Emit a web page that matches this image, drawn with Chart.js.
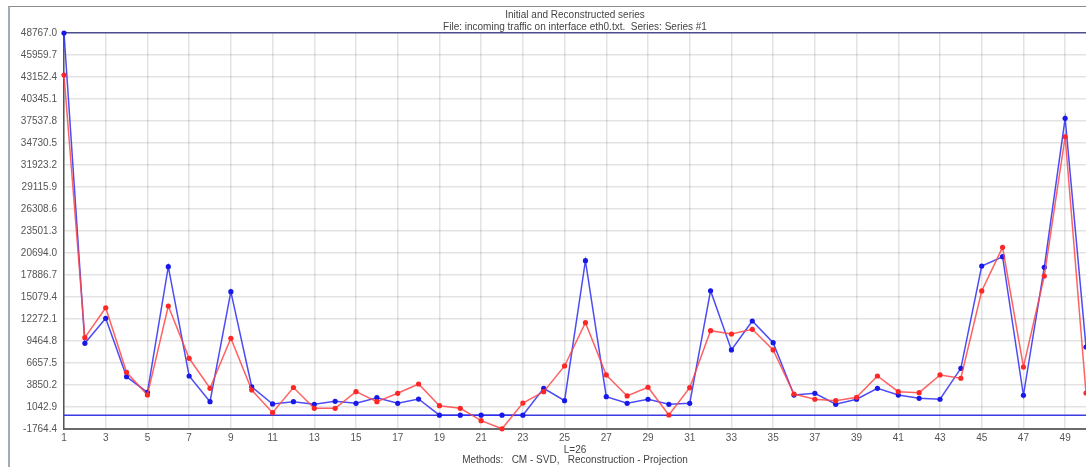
<!DOCTYPE html>
<html>
<head>
<meta charset="utf-8">
<script src="https://cdn.jsdelivr.net/npm/chart.js@4.4.1/dist/chart.umd.min.js"></script>
<style>
  html, body { margin: 0; padding: 0; background: #fff; }
  #wrap { position: relative; width: 1086px; height: 467px; overflow: hidden; }
  #marco { position: absolute; left: 8px; top: 6px; right: -4px; bottom: -4px;
           border-left: 2px solid #a3abb5; border-top: 1px solid #8c8c8c; }
  canvas { position: absolute; left: 0; top: 0; }
</style>
</head>
<body>
<div id="wrap">
  <div id="marco"></div>
  <canvas id="grafico" width="1086" height="467"></canvas>
</div>
<script>
/* Serie inicial y reconstruida */

const puntos = [1, 2, 3, 4, 5, 6, 7, 8, 9, 10, 11, 12, 13, 14, 15, 16, 17, 18, 19, 20,
  21, 22, 23, 24, 25, 26, 27, 28, 29, 30, 31, 32, 33, 34, 35, 36, 37, 38, 39, 40,
  41, 42, 43, 44, 45, 46, 47, 48, 49, 50];

// valores
const serieInicial = [48767, 9170, 12360, 4910, 2920, 18950, 5000, 1720, 15760, 3630,
  1430, 1720, 1390, 1770, 1515, 2230, 1515, 2060, 0, 0,
  0, 0, 0, 3430, 1850, 19710, 2360, 1515, 2030, 1390,
  1515, 15880, 8320, 12020, 9250, 2570, 2790, 1390, 2030, 3430,
  2570, 2150, 2030, 5980, 19030, 20220, 2540, 18870, 37880, 8700];

const serieReconstruida = [43400, 9890, 13710, 5470, 2575, 13930, 7260, 3430, 9810, 3210,
  320, 3530, 880, 880, 3000, 1720, 2790, 3980, 1210, 880,
  -700, -1740, 1550, 3000, 6280, 11800, 5130, 2450, 3560, 20,
  3510, 10780, 10360, 10960, 8320, 2700, 2030, 1850, 2280, 5000,
  3000, 2870, 5130, 4710, 15850, 21420, 6150, 17760, 35530, 2830];

const ticksY = [-1764.4, 1042.9, 3850.2, 6657.5, 9464.8, 12272.1, 15079.4, 17886.7,
  20694.0, 23501.3, 26308.6, 29115.9, 31923.2, 34730.5, 37537.8, 40345.1, 43152.4,
  45959.7, 48767.0];

const ticksX = [1, 3, 5, 7, 9, 11, 13, 15, 17, 19, 21, 23, 25, 27, 29, 31, 33, 35,
  37, 39, 41, 43, 45, 47, 49];

Chart.defaults.font.family = "'Liberation Sans', Arial, sans-serif";
Chart.defaults.color = '#555';

// linea horizontal en cero
const lineaCero = {
  id: 'lineaCero',
  beforeDatasetsDraw(chart) {
    const { ctx, chartArea, scales } = chart;
    const y = scales.y.getPixelForValue(0);
    ctx.save();
    ctx.strokeStyle = '#3b3be2';
    ctx.lineWidth = 1.5;
    ctx.beginPath();
    ctx.moveTo(chartArea.left, y);
    ctx.lineTo(chartArea.right, y);
    ctx.stroke();
    ctx.restore();
  }
};

const aPuntos = serie => serie.map((v, i) => ({ x: puntos[i], y: v }));

new Chart(document.getElementById('grafico'), {
  type: 'line',
  data: {
    datasets: [{
      label: 'Initial',
      data: aPuntos(serieInicial),
      borderColor: 'rgba(45,45,245,0.85)',
      borderWidth: 1.5,
      pointRadius: 2.6,
      pointBackgroundColor: '#1818e8',
      pointBorderWidth: 0,
      tension: 0,
      clip: false,
      order: 2
    }, {
      label: 'Reconstructed',
      data: aPuntos(serieReconstruida),
      borderColor: 'rgba(255,70,70,0.85)',
      borderWidth: 1.5,
      pointRadius: 2.6,
      pointBackgroundColor: '#ff2626',
      pointBorderWidth: 0,
      tension: 0,
      clip: false,
      order: 1
    }]
  },
  options: {
    responsive: false,
    animation: false,
    layout: { padding: 0, autoPadding: false },
    plugins: {
      legend: { display: false },
      tooltip: { enabled: false },
      title: {
        display: true,
        fullSize: false,
        text: 'Initial and Reconstructed series',
        color: '#444',
        font: { size: 10, weight: 'normal' },
        padding: { top: 9, bottom: 0 }
      },
      subtitle: {
        display: true,
        fullSize: false,
        text: 'File: incoming traffic on interface eth0.txt.  Series: Series #1',
        color: '#444',
        font: { size: 10 },
        padding: { top: 0, bottom: 0 }
      }
    },
    scales: {
      x: {
        type: 'linear',
        min: 1,
        max: 50,
        afterBuildTicks: s => { s.ticks = ticksX.map(v => ({ value: v })); },
        afterFit: s => { s.height = 38; },
        grid: { color: 'rgba(0,0,0,0.11)', lineWidth: 1.5, drawTicks: false },
        border: { color: '#6a6a6a', width: 2 },
        ticks: { color: '#555', font: { size: 10 }, padding: 3, maxRotation: 0, autoSkip: false },
        title: {
          display: true,
          text: ['L=26', 'Methods:   CM - SVD,   Reconstruction - Projection'],
          color: '#444',
          font: { size: 10, lineHeight: 1.0 },
          padding: { top: 0, bottom: 2 }
        }
      },
      y: {
        min: -1764.4,
        max: 48767.0,
        afterBuildTicks: s => { s.ticks = ticksY.map(v => ({ value: v })); },
        afterFit: s => { s.width = 64; },
        grid: {
          drawTicks: false,
          lineWidth: 1.5,
          color: c => (c.tick && c.tick.value === ticksY[ticksY.length - 1]) ? '#4c4c90' : 'rgba(0,0,0,0.11)'
        },
        border: { color: '#555', width: 1.5 },
        ticks: { color: '#555', font: { size: 10 }, padding: 7, callback: v => v.toFixed(1) }
      }
    }
  },
  plugins: [lineaCero]
});
</script>
</body>
</html>
